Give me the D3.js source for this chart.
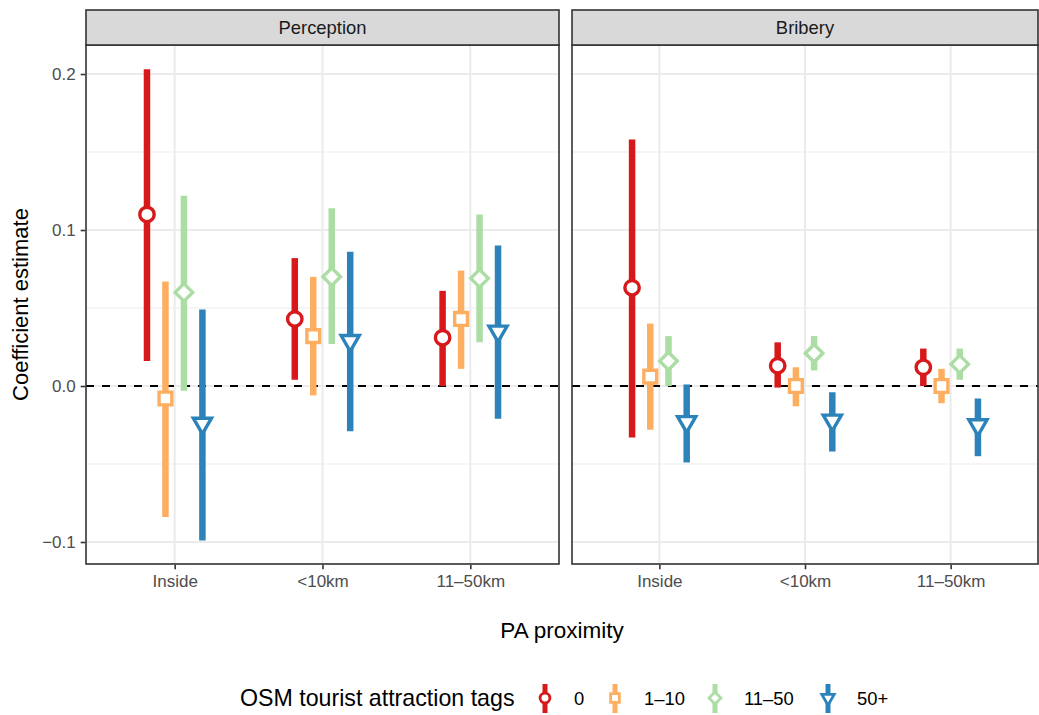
<!DOCTYPE html>
<html>
<head>
<meta charset="utf-8">
<script src="https://cdn.jsdelivr.net/npm/d3@7"></script>
<style>
  body { margin: 0; background: #fff; }
  svg { font-family: "Liberation Sans", Arial, sans-serif; }
</style>
</head>
<body>
<script>
// categories
const proximity = ["Inside", "<10km", "11\u201350km"];
const groups = ["0", "1\u201310", "11\u201350", "50+"];
const panels = ["Perception", "Bribery"];
const yTicks = [-0.1, 0.0, 0.1, 0.2];

// estimate / low / high, per group, per proximity (Inside, <10km, 11-50km)
const perceptionEst = [
  [0.110, 0.043, 0.031],
  [-0.008, 0.032, 0.043],
  [0.060, 0.070, 0.069],
  [-0.024, 0.029, 0.035]
];
const perceptionLow = [
  [0.016, 0.004, 0.000],
  [-0.084, -0.006, 0.011],
  [-0.003, 0.027, 0.028],
  [-0.099, -0.029, -0.021]
];
const perceptionHigh = [
  [0.203, 0.082, 0.061],
  [0.067, 0.070, 0.074],
  [0.122, 0.114, 0.110],
  [0.049, 0.086, 0.090]
];
const briberyEst = [
  [0.063, 0.013, 0.012],
  [0.006, 0.000, 0.000],
  [0.016, 0.021, 0.014],
  [-0.023, -0.022, -0.025]
];
const briberyLow = [
  [-0.033, -0.001, 0.000],
  [-0.028, -0.013, -0.011],
  [0.000, 0.010, 0.004],
  [-0.049, -0.042, -0.045]
];
const briberyHigh = [
  [0.158, 0.028, 0.024],
  [0.040, 0.012, 0.011],
  [0.032, 0.032, 0.024],
  [0.001, -0.004, -0.008]
];

const colors = ["#d7191c", "#fdae61", "#abdda4", "#2b83ba"];
const shapes = ["circle", "square", "diamond", "triangle"];

const width = 1039, height = 715;
const panelTop = 45, panelBottom = 564;
const stripTop = 10;
const panelX = [[86, 559], [572, 1038]];
const tickFont = 17;

const svg = d3.select("body").append("svg")
  .attr("width", width)
  .attr("height", height)
  .attr("viewBox", [0, 0, width, height]);

const y = d3.scaleLinear()
  .domain([-0.1141, 0.2186])
  .range([panelBottom, panelTop]);

// marker path, centred on 0,0
function markerPath(shape, s) {
  if (shape === "circle") {
    const r = 7.2 * s;
    return `M${-r},0A${r},${r} 0 1,0 ${r},0A${r},${r} 0 1,0 ${-r},0Z`;
  }
  if (shape === "square") {
    const h = 6.4 * s;
    return `M${-h},${-h}H${h}V${h}H${-h}Z`;
  }
  if (shape === "diamond") {
    const h = 8.8 * s;
    return `M0,${-h}L${h},0L0,${h}L${-h},0Z`;
  }
  // downward triangle, centroid at 0
  const r = 10.5 * s, xc = r * Math.sqrt(3) / 2;
  return `M${-xc},${-r / 2}L${xc},${-r / 2}L0,${r}Z`;
}

const panelData = [
  [perceptionEst, perceptionLow, perceptionHigh],
  [briberyEst, briberyLow, briberyHigh]
];

panels.forEach((name, p) => {
  const [x0, x1] = panelX[p];
  const x = d3.scalePoint().domain(proximity).range([x0, x1]).padding(0.6);
  const dodge = d3.scaleBand().domain(groups)
    .range([-x.step() * 0.25, x.step() * 0.25]);

  const g = svg.append("g");

  // background grid
  const minor = [-0.05, 0.05, 0.15];
  g.selectAll(".minor").data(minor).join("line")
    .attr("x1", x0).attr("x2", x1)
    .attr("y1", d => y(d)).attr("y2", d => y(d))
    .attr("stroke", "#ebebeb").attr("stroke-width", 1);
  g.selectAll(".major").data(yTicks).join("line")
    .attr("x1", x0).attr("x2", x1)
    .attr("y1", d => y(d)).attr("y2", d => y(d))
    .attr("stroke", "#ebebeb").attr("stroke-width", 2);
  g.selectAll(".vmajor").data(proximity).join("line")
    .attr("x1", d => x(d)).attr("x2", d => x(d))
    .attr("y1", panelTop).attr("y2", panelBottom)
    .attr("stroke", "#ebebeb").attr("stroke-width", 2);

  // zero reference
  g.append("line")
    .attr("x1", x0).attr("x2", x1)
    .attr("y1", y(0)).attr("y2", y(0))
    .attr("stroke", "#000").attr("stroke-width", 2)
    .attr("stroke-dasharray", "8,8");

  const [est, low, high] = panelData[p];
  groups.forEach((grp, gi) => {
    const pts = proximity.map((c, ci) => ({
      cx: x(c) + dodge(grp) + dodge.bandwidth() / 2,
      est: est[gi][ci], low: low[gi][ci], high: high[gi][ci]
    }));
    g.selectAll(null).data(pts).join("line")
      .attr("x1", d => d.cx).attr("x2", d => d.cx)
      .attr("y1", d => y(d.low)).attr("y2", d => y(d.high))
      .attr("stroke", colors[gi]).attr("stroke-width", 6.5);
    g.selectAll(null).data(pts).join("path")
      .attr("transform", d => `translate(${d.cx},${y(d.est)})`)
      .attr("d", markerPath(shapes[gi], 1))
      .attr("fill", "#fff")
      .attr("stroke", colors[gi])
      .attr("stroke-width", 3.4)
      .attr("stroke-linejoin", "miter");
  });

  // panel border
  g.append("rect")
    .attr("x", x0).attr("y", panelTop)
    .attr("width", x1 - x0).attr("height", panelBottom - panelTop)
    .attr("fill", "none").attr("stroke", "#333").attr("stroke-width", 1.6);

  // strip
  g.append("rect")
    .attr("x", x0).attr("y", stripTop)
    .attr("width", x1 - x0).attr("height", panelTop - stripTop)
    .attr("fill", "#d9d9d9").attr("stroke", "#333").attr("stroke-width", 1.6);
  g.append("text")
    .attr("x", (x0 + x1) / 2).attr("y", (stripTop + panelTop) / 2 + 6.5)
    .attr("text-anchor", "middle")
    .attr("font-size", 18.4).attr("fill", "#1a1a1a")
    .text(name);

  // x axis
  const xAxis = g.append("g")
    .attr("transform", `translate(0,${panelBottom + 0.8})`)
    .call(d3.axisBottom(x).tickSize(4.5).tickPadding(5.5));
  xAxis.select(".domain").remove();
  xAxis.selectAll(".tick line").attr("stroke", "#333").attr("stroke-width", 1.6);
  xAxis.selectAll(".tick text").attr("fill", "#4d4d4d")
    .attr("font-size", tickFont).attr("font-family", "Liberation Sans, Arial, sans-serif");

  if (p === 0) {
    const yAxis = g.append("g")
      .attr("transform", `translate(${x0 - 0.8},0)`)
      .call(d3.axisLeft(y).tickValues(yTicks)
        .tickFormat(d => d3.format(".1f")(d).replace("-", "\u2212"))
        .tickSize(4.5).tickPadding(5));
    yAxis.select(".domain").remove();
    yAxis.selectAll(".tick line").attr("stroke", "#333").attr("stroke-width", 1.6);
    yAxis.selectAll(".tick text").attr("fill", "#4d4d4d")
      .attr("font-size", tickFont).attr("font-family", "Liberation Sans, Arial, sans-serif");
  }
});

// axis titles
svg.append("text")
  .attr("x", (panelX[0][0] + panelX[1][1]) / 2).attr("y", 638)
  .attr("text-anchor", "middle").attr("font-size", 22.5).attr("fill", "#000")
  .text("PA proximity");
svg.append("text")
  .attr("transform", `translate(28,${(panelTop + panelBottom) / 2}) rotate(-90)`)
  .attr("text-anchor", "middle").attr("font-size", 22).attr("fill", "#000")
  .text("Coefficient estimate");

// legend
const legend = svg.append("g").attr("transform", "translate(240,698)");
legend.append("text")
  .attr("x", 0).attr("y", 8)
  .attr("font-size", 23.2).attr("fill", "#000")
  .text("OSM tourist attraction tags");
const keyX = [305, 375, 475, 588];
groups.forEach((grp, gi) => {
  const k = legend.append("g").attr("transform", `translate(${keyX[gi]},0)`);
  k.append("line")
    .attr("y1", -14).attr("y2", 15)
    .attr("stroke", colors[gi]).attr("stroke-width", 5);
  k.append("path")
    .attr("d", markerPath(shapes[gi], 0.68))
    .attr("fill", "#fff").attr("stroke", colors[gi]).attr("stroke-width", 2.8);
  k.append("text")
    .attr("x", 29).attr("y", 7)
    .attr("font-size", 18.4).attr("fill", "#000")
    .text(grp);
});
</script>
</body>
</html>
